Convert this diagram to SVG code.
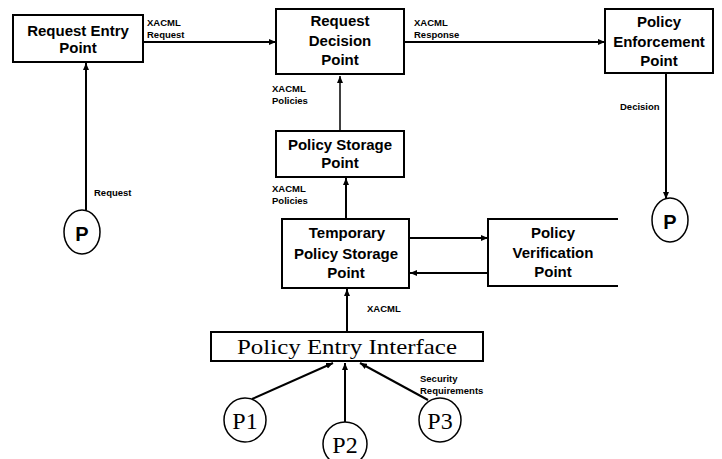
<svg xmlns="http://www.w3.org/2000/svg" width="722" height="459" viewBox="0 0 722 459">
  <style>
    .box { fill: #fff; stroke: #000; stroke-width: 2; }
    .open { fill: none; stroke: #000; stroke-width: 2; }
    .actor { fill: #fff; stroke: #000; stroke-width: 1.5; }
    .title { font-family: "Liberation Sans", Arial, sans-serif; font-weight: bold; font-size: 15px; text-anchor: middle; fill: #000; }
    .lbl { font-family: "Liberation Sans", Arial, sans-serif; font-weight: bold; font-size: 9.5px; fill: #000; }
    .pbold { font-family: "Liberation Sans", Arial, sans-serif; font-weight: bold; font-size: 20px; text-anchor: middle; fill: #000; }
    .serif { font-family: "Liberation Serif", "Times New Roman", serif; text-anchor: middle; fill: #000; }
    .edge { fill: none; stroke: #000; stroke-width: 2; marker-end: url(#head); }
  </style>
  <defs>
    <marker id="head" markerUnits="userSpaceOnUse" markerWidth="8" markerHeight="6" refX="7" refY="3" orient="auto">
      <path d="M0,0 L7,3 L0,6 Z" fill="#000"/>
    </marker>
  </defs>
  <rect width="722" height="459" fill="#fff"/>

  <!-- connectors -->
  <g id="connectors">
    <line class="edge" x1="143" y1="42" x2="276" y2="42"/>
    <line class="edge" x1="404" y1="42" x2="605" y2="42"/>
    <line class="edge" x1="340" y1="131" x2="340" y2="76" style="stroke-width:1.5"/>
    <line class="edge" x1="346" y1="219" x2="346" y2="178"/>
    <line class="edge" x1="409" y1="238" x2="488" y2="238"/>
    <line class="edge" x1="488" y1="273" x2="410" y2="273"/>
    <line class="edge" x1="347" y1="332" x2="347" y2="289"/>
    <line class="edge" x1="86" y1="210" x2="86" y2="63"/>
    <line class="edge" x1="666" y1="73" x2="666" y2="199"/>
    <line class="edge" x1="252" y1="399" x2="333" y2="363"/>
    <line class="edge" x1="345" y1="422" x2="345" y2="363"/>
    <line class="edge" x1="428" y1="400" x2="360" y2="363"/>

    <text class="lbl" x="147" y="26">XACML</text>
    <text class="lbl" x="147" y="38">Request</text>
    <text class="lbl" x="414" y="26">XACML</text>
    <text class="lbl" x="414" y="38">Response</text>
    <text class="lbl" x="272" y="92">XACML</text>
    <text class="lbl" x="272" y="104">Policies</text>
    <text class="lbl" x="272" y="192">XACML</text>
    <text class="lbl" x="272" y="204">Policies</text>
    <text class="lbl" x="620" y="110">Decision</text>
    <text class="lbl" x="94" y="196">Request</text>
    <text class="lbl" x="367" y="312">XACML</text>
    <text class="lbl" x="420" y="382">Security</text>
    <text class="lbl" x="420" y="394">Requirements</text>
  </g>

  <!-- request entry point -->
  <g id="request-entry-point">
    <rect class="box" x="13" y="15" width="130" height="47"/>
    <text class="title" x="78" y="36">Request Entry</text>
    <text class="title" x="78" y="53">Point</text>
  </g>

  <!-- request decision point -->
  <g id="request-decision-point">
    <rect class="box" x="276" y="9" width="128" height="65"/>
    <text class="title" x="340" y="26">Request</text>
    <text class="title" x="340" y="46">Decision</text>
    <text class="title" x="340" y="65">Point</text>
  </g>

  <!-- policy enforcement point -->
  <g id="policy-enforcement-point">
    <rect class="box" x="605" y="9" width="108" height="64"/>
    <text class="title" x="659" y="27">Policy</text>
    <text class="title" x="659" y="47">Enforcement</text>
    <text class="title" x="659" y="66">Point</text>
  </g>

  <!-- policy storage point -->
  <g id="policy-storage-point">
    <rect class="box" x="276" y="131" width="128" height="46"/>
    <text class="title" x="340" y="150">Policy Storage</text>
    <text class="title" x="340" y="168">Point</text>
  </g>

  <!-- temporary policy storage point -->
  <g id="temporary-policy-storage-point">
    <rect class="box" x="282" y="219" width="127" height="69"/>
    <text class="title" x="347" y="238">Temporary</text>
    <text class="title" x="346" y="259">Policy Storage</text>
    <text class="title" x="346" y="278">Point</text>
  </g>

  <!-- policy verification point (open on the right) -->
  <g id="policy-verification-point">
    <rect x="488" y="219" width="130" height="67" fill="#fff"/>
    <path class="open" d="M618,219 H488 V286 H618"/>
    <text class="title" x="553" y="238">Policy</text>
    <text class="title" x="553" y="258">Verification</text>
    <text class="title" x="553" y="277">Point</text>
  </g>

  <!-- policy entry interface -->
  <g id="policy-entry-interface">
    <rect class="box" x="211" y="332" width="272" height="29"/>
    <text class="serif" x="347" y="354" font-size="22" textLength="220" lengthAdjust="spacingAndGlyphs">Policy Entry Interface</text>
  </g>

  <!-- actors -->
  <g id="requester">
    <ellipse class="actor" cx="82" cy="232" rx="18" ry="22"/>
    <text class="pbold" x="82" y="241">P</text>
  </g>
  <g id="enforcer">
    <ellipse class="actor" cx="670" cy="220" rx="18" ry="22"/>
    <text class="pbold" x="670" y="229">P</text>
  </g>
  <g id="p1">
    <ellipse class="actor" cx="245" cy="420" rx="21" ry="22"/>
    <text class="serif" x="245" y="429" font-size="24">P1</text>
  </g>
  <g id="p2">
    <ellipse class="actor" cx="345" cy="444" rx="22" ry="22"/>
    <text class="serif" x="345" y="453" font-size="24">P2</text>
  </g>
  <g id="p3">
    <ellipse class="actor" cx="440" cy="420" rx="21" ry="22"/>
    <text class="serif" x="440" y="429" font-size="24">P3</text>
  </g>
</svg>
